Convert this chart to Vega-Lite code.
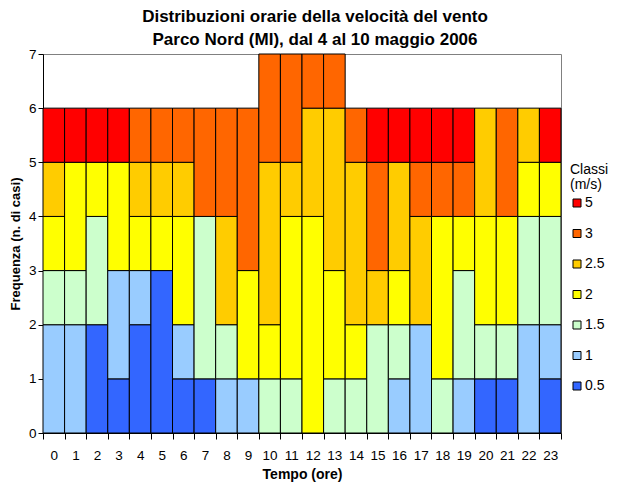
{
  "$schema": "https://vega.github.io/schema/vega-lite/v6.json",
  "autosize": {"type": "none"},
  "padding": {"left": 43, "top": 54, "right": 73, "bottom": 52},
  "width": 518,
  "height": 379,
  "background": "white",
  "config": {
    "font": "Liberation Sans",
    "view": {"stroke": "#808080", "strokeWidth": 1}
  },
  "title": {
    "text": ["Distribuzioni orarie della velocità del vento", "Parco Nord (MI), dal 4 al 10 maggio 2006"],
    "fontSize": 17,
    "fontWeight": "bold",
    "lineHeight": 23,
    "anchor": "middle",
    "dx": 13,
    "offset": -2,
    "color": "black"
  },
  "data": {
    "values": [
      {"h": 0, "c": "1", "n": 2}, {"h": 0, "c": "1.5", "n": 1}, {"h": 0, "c": "2", "n": 1}, {"h": 0, "c": "2.5", "n": 1}, {"h": 0, "c": "5", "n": 1},
      {"h": 1, "c": "1", "n": 2}, {"h": 1, "c": "1.5", "n": 1}, {"h": 1, "c": "2", "n": 2}, {"h": 1, "c": "5", "n": 1},
      {"h": 2, "c": "0.5", "n": 2}, {"h": 2, "c": "1.5", "n": 2}, {"h": 2, "c": "2", "n": 1}, {"h": 2, "c": "5", "n": 1},
      {"h": 3, "c": "0.5", "n": 1}, {"h": 3, "c": "1", "n": 2}, {"h": 3, "c": "2", "n": 2}, {"h": 3, "c": "5", "n": 1},
      {"h": 4, "c": "0.5", "n": 2}, {"h": 4, "c": "1", "n": 1}, {"h": 4, "c": "2", "n": 1}, {"h": 4, "c": "2.5", "n": 1}, {"h": 4, "c": "3", "n": 1},
      {"h": 5, "c": "0.5", "n": 3}, {"h": 5, "c": "2", "n": 1}, {"h": 5, "c": "2.5", "n": 1}, {"h": 5, "c": "3", "n": 1},
      {"h": 6, "c": "0.5", "n": 1}, {"h": 6, "c": "1", "n": 1}, {"h": 6, "c": "2", "n": 2}, {"h": 6, "c": "2.5", "n": 1}, {"h": 6, "c": "3", "n": 1},
      {"h": 7, "c": "0.5", "n": 1}, {"h": 7, "c": "1.5", "n": 3}, {"h": 7, "c": "3", "n": 2},
      {"h": 8, "c": "1", "n": 1}, {"h": 8, "c": "1.5", "n": 1}, {"h": 8, "c": "2.5", "n": 2}, {"h": 8, "c": "3", "n": 2},
      {"h": 9, "c": "1", "n": 1}, {"h": 9, "c": "2", "n": 2}, {"h": 9, "c": "3", "n": 3},
      {"h": 10, "c": "1.5", "n": 1}, {"h": 10, "c": "2", "n": 1}, {"h": 10, "c": "2.5", "n": 3}, {"h": 10, "c": "3", "n": 2},
      {"h": 11, "c": "1.5", "n": 1}, {"h": 11, "c": "2", "n": 3}, {"h": 11, "c": "2.5", "n": 1}, {"h": 11, "c": "3", "n": 2},
      {"h": 12, "c": "2", "n": 4}, {"h": 12, "c": "2.5", "n": 2}, {"h": 12, "c": "3", "n": 1},
      {"h": 13, "c": "1.5", "n": 1}, {"h": 13, "c": "2", "n": 2}, {"h": 13, "c": "2.5", "n": 3}, {"h": 13, "c": "3", "n": 1},
      {"h": 14, "c": "1.5", "n": 1}, {"h": 14, "c": "2", "n": 1}, {"h": 14, "c": "2.5", "n": 3}, {"h": 14, "c": "3", "n": 1},
      {"h": 15, "c": "1.5", "n": 2}, {"h": 15, "c": "2.5", "n": 1}, {"h": 15, "c": "3", "n": 2}, {"h": 15, "c": "5", "n": 1},
      {"h": 16, "c": "1", "n": 1}, {"h": 16, "c": "1.5", "n": 1}, {"h": 16, "c": "2", "n": 1}, {"h": 16, "c": "2.5", "n": 2}, {"h": 16, "c": "5", "n": 1},
      {"h": 17, "c": "1", "n": 2}, {"h": 17, "c": "2.5", "n": 2}, {"h": 17, "c": "3", "n": 1}, {"h": 17, "c": "5", "n": 1},
      {"h": 18, "c": "1.5", "n": 1}, {"h": 18, "c": "2", "n": 3}, {"h": 18, "c": "3", "n": 1}, {"h": 18, "c": "5", "n": 1},
      {"h": 19, "c": "1", "n": 1}, {"h": 19, "c": "1.5", "n": 2}, {"h": 19, "c": "2", "n": 1}, {"h": 19, "c": "3", "n": 1}, {"h": 19, "c": "5", "n": 1},
      {"h": 20, "c": "0.5", "n": 1}, {"h": 20, "c": "1.5", "n": 1}, {"h": 20, "c": "2", "n": 2}, {"h": 20, "c": "2.5", "n": 2},
      {"h": 21, "c": "0.5", "n": 1}, {"h": 21, "c": "1.5", "n": 1}, {"h": 21, "c": "2", "n": 2}, {"h": 21, "c": "3", "n": 2},
      {"h": 22, "c": "1", "n": 2}, {"h": 22, "c": "1.5", "n": 2}, {"h": 22, "c": "2", "n": 1}, {"h": 22, "c": "2.5", "n": 1},
      {"h": 23, "c": "0.5", "n": 1}, {"h": 23, "c": "1", "n": 1}, {"h": 23, "c": "1.5", "n": 2}, {"h": 23, "c": "2", "n": 1}, {"h": 23, "c": "5", "n": 1}
    ]
  },
  "mark": {"type": "bar", "stroke": "black", "strokeWidth": 1},
  "encoding": {
    "x": {
      "field": "h", "type": "ordinal",
      "scale": {"paddingInner": 0, "paddingOuter": 0},
      "axis": {
        "title": "Tempo (ore)", "titleFontSize": 14, "titleFontWeight": "bold", "titleColor": "black", "titlePadding": 6,
        "labelAngle": 0, "labelFontSize": 13.5, "labelColor": "black", "labelPadding": 9,
        "tickBand": "extent", "tickSize": 6, "tickColor": "black", "domainColor": "black"
      }
    },
    "y": {
      "field": "n", "type": "quantitative", "aggregate": "sum", "stack": "zero",
      "scale": {"domain": [0, 7], "nice": false},
      "axis": {
        "title": "Frequenza (n. di casi)", "titleFontSize": 13, "titleFontWeight": "bold", "titleColor": "black", "titlePadding": 6,
        "values": [0, 1, 2, 3, 4, 5, 6, 7], "grid": false,
        "labelFontSize": 13.5, "labelColor": "black", "labelPadding": 2,
        "tickSize": 5, "tickColor": "black", "domainColor": "black"
      }
    },
    "color": {
      "field": "c", "type": "nominal",
      "scale": {
        "domain": ["5", "3", "2.5", "2", "1.5", "1", "0.5"],
        "range": ["#FF0000", "#FF6600", "#FFCC00", "#FFFF00", "#CCFFCC", "#99CCFF", "#3366FF"]
      },
      "legend": {
        "title": ["Classi", "(m/s)"],
        "titleFontSize": 14, "titleFontWeight": "normal", "titleColor": "black", "titleLineHeight": 15, "titlePadding": 4,
        "orient": "none", "legendX": 527, "legendY": 109,
        "symbolType": "square", "symbolSize": 64, "symbolStrokeColor": "black", "symbolStrokeWidth": 1,
        "labelFontSize": 14, "labelColor": "black", "labelOffset": 1,
        "rowPadding": 16.5
      }
    },
    "order": {"field": "c", "type": "ordinal", "sort": "ascending"}
  }
}
